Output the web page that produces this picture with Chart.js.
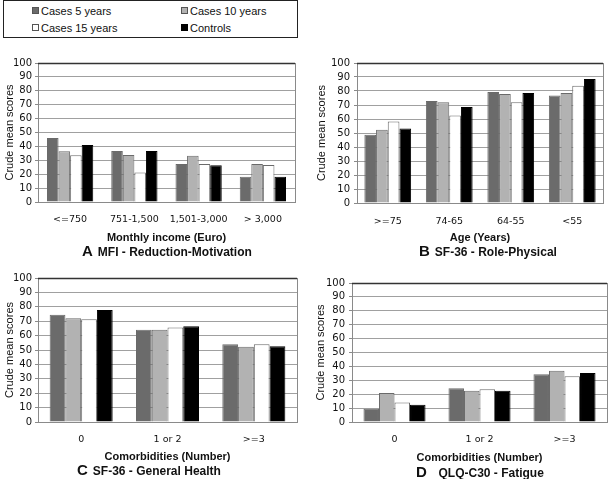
<!DOCTYPE html>
<html>
<head>
<meta charset="utf-8">
<script src="https://cdn.jsdelivr.net/npm/chart.js@4.4.1/dist/chart.umd.min.js"></script>
<style>
  html, body { margin: 0; padding: 0; background: #fff; }
  body { width: 613px; height: 479px; position: relative; overflow: hidden; font-family: "Liberation Sans", Arial, sans-serif; }
  .panel { position: absolute; }
  .legend { position: absolute; left: 3px; top: 0px; width: 293px; height: 36px; border: 1.5px solid #222; }
  .li { position: absolute; font-size: 11px; color: #111; line-height: 13px; white-space: nowrap; }
  .li span.sw { display: inline-block; width: 5px; height: 5px; border: 1px solid #555; margin-right: 2px; vertical-align: 1px; }
  .sub { position: absolute; white-space: nowrap; color: #111; font-weight: bold; font-size: 12px; line-height: 14px; }
  .sub b { font-size: 15px; margin-right: 5px; }
</style>
</head>
<body>
<div class="legend" id="legend"></div>

<div class="panel" style="left:0;top:50px;width:300px;height:195px"><canvas id="cA" width="300" height="195"></canvas></div>
<div class="panel" style="left:300px;top:50px;width:313px;height:195px"><canvas id="cB" width="313" height="195"></canvas></div>
<div class="panel" style="left:0;top:265px;width:300px;height:200px"><canvas id="cC" width="300" height="200"></canvas></div>
<div class="panel" style="left:300px;top:265px;width:313px;height:200px"><canvas id="cD" width="313" height="200"></canvas></div>

<div class="sub" style="left:82px;top:244px"><b>A</b>MFI - Reduction-Motivation</div>
<div class="sub" style="left:419px;top:244px"><b>B</b>SF-36 - Role-Physical</div>
<div class="sub" style="left:77px;top:463px"><b>C</b>SF-36 - General Health</div>
<div class="sub" style="left:416px;top:465px"><b>D</b>&nbsp;&nbsp;QLQ-C30 - Fatigue</div>

<script>
// ---- data ----
const seriesLabels = ['Cases 5 years', 'Cases 10 years', 'Cases 15 years', 'Controls'];
const seriesColors = ['#6b6b6b', '#b2b2b2', '#ffffff', '#000000'];
const yTicks = [0, 10, 20, 30, 40, 50, 60, 70, 80, 90, 100];

const catsA = ['<=750', '751-1,500', '1,501-3,000', '> 3,000'];
const a5  = [46, 36.7, 27.3, 18.2];
const a10 = [36.5, 33.8, 33.3, 27.3];
const a15 = [33.6, 21.3, 27.3, 26.6];
const aCtrl = [41, 36.7, 26.4, 18.2];

const catsB = ['>=75', '74-65', '64-55', '<55'];
const b5  = [48.8, 72.9, 79.2, 76.8];
const b10 = [52.3, 72.0, 77.8, 78.5];
const b15 = [58.2, 62.5, 72.0, 83.8];
const bCtrl = [53.2, 68.5, 78.5, 88.6];

const catsC = ['0', '1 or 2', '>=3'];
const c5  = [74.4, 64, 54];
const c10 = [72.1, 64, 52.3];
const c15 = [71.4, 65.6, 54];
const cCtrl = [77.7, 66.5, 52.6];

const catsD = ['0', '1 or 2', '>=3'];
const d5  = [9.6, 24.2, 34.3];
const d10 = [20.9, 22.5, 36.9];
const d15 = [14.1, 23.5, 32.9];
const dCtrl = [12.5, 22.5, 35.3];

// ---- legend ----
(function () {
  const lg = document.getElementById('legend');
  const pos = [[28, 4], [177, 4], [28, 21], [177, 21]];
  seriesLabels.forEach((s, i) => {
    const d = document.createElement('div');
    d.className = 'li';
    d.style.left = pos[i][0] + 'px';
    d.style.top = pos[i][1] + 'px';
    const sw = document.createElement('span');
    sw.className = 'sw';
    sw.style.background = seriesColors[i];
    if (i === 3) sw.style.borderColor = '#000';
    d.appendChild(sw);
    d.appendChild(document.createTextNode(s));
    lg.appendChild(d);
  });
})();

const framePlugin = {
  id: 'frame',
  beforeDatasetsDraw(chart) {
    const a = chart.chartArea, ctx = chart.ctx;
    ctx.save();
    ctx.strokeStyle = '#8a8a8a';
    ctx.lineWidth = 1;
    ctx.strokeRect(Math.round(a.left) + 0.5, Math.round(a.top) + 0.5, Math.round(a.right - a.left), Math.round(a.bottom - a.top));
    ctx.beginPath();
    ctx.strokeStyle = '#333';
    ctx.lineWidth = 1.5;
    ctx.moveTo(a.left, a.top + 0.5);
    ctx.lineTo(a.right, a.top + 0.5);
    ctx.stroke();
    ctx.restore();
  }
};

function makeChart(id, cats, vals, cfg) {
  const datasets = vals.map((v, i) => ({
    label: seriesLabels[i],
    data: v,
    backgroundColor: seriesColors[i],
    borderColor: i === 3 ? '#000' : '#6a6a6a',
    borderWidth: 1,
    categoryPercentage: cfg.catPct,
    barPercentage: 1.0
  }));
  return new Chart(document.getElementById(id), {
    type: 'bar',
    data: { labels: cats, datasets },
    plugins: [framePlugin],
    options: {
      responsive: false,
      animation: false,
      devicePixelRatio: 1,
      layout: { padding: { top: cfg.padTop, right: cfg.padRight, left: 0, bottom: 0 } },
      plugins: { legend: { display: false }, tooltip: { enabled: false } },
      scales: {
        x: {
          grid: { display: false, drawTicks: false },
          border: { display: true, color: '#777', width: 1 },
          ticks: { color: '#111', padding: cfg.xPad, font: { family: 'DejaVu Sans', size: 9.5 }, maxRotation: 0, autoSkip: false },
          title: { display: true, text: cfg.xTitle, color: '#111', font: { family: 'Liberation Sans', size: 11, weight: 'bold' }, padding: { top: 0, bottom: cfg.xTitlePad } },
          afterFit(s) { s.height = cfg.xHeight; }
        },
        y: {
          min: 0, max: 100,
          afterBuildTicks(s) { s.ticks = yTicks.map(v => ({ value: v })); },
          grid: {
            color: '#a0a0a0',
            drawTicks: true, tickLength: 3, tickColor: '#8a8a8a'
          },
          border: { display: true, color: '#8a8a8a' },
          ticks: { color: '#111', padding: cfg.yPad, autoSkip: false, stepSize: 10, font: { family: 'DejaVu Sans', size: 10 } },
          title: { display: true, text: 'Crude mean scores', color: '#111', font: { family: 'Liberation Sans', size: 11 }, padding: { top: cfg.yTitlePad, bottom: 0 } },
          afterFit(s) { s.width = cfg.yWidth; }
        }
      }
    }
  });
}

makeChart('cA', catsA, [a5, a10, a15, aCtrl], { catPct: 0.72, padTop: 13, padRight: 5, xPad: 12, xHeight: 43, xTitle: 'Monthly income (Euro)', xTitlePad: 0, yWidth: 38, yPad: 3, yTitlePad: 3 });
makeChart('cB', catsB, [b5, b10, b15, bCtrl], { catPct: 0.76, padTop: 13, padRight: 10, xPad: 13, xHeight: 42, xTitle: 'Age (Years)', xTitlePad: 0, yWidth: 57, yPad: 4, yTitlePad: 15 });
makeChart('cC', catsC, [c5, c10, c15, cCtrl], { catPct: 0.73, padTop: 13, padRight: 3, xPad: 12, xHeight: 43, xTitle: 'Comorbidities (Number)', xTitlePad: 1, yWidth: 38, yPad: 3, yTitlePad: 3 });
makeChart('cD', catsD, [d5, d10, d15, dCtrl], { catPct: 0.73, padTop: 18, padRight: 6, xPad: 12, xHeight: 43, xTitle: 'Comorbidities (Number)', xTitlePad: 0, yWidth: 52, yPad: 4, yTitlePad: 14 });
</script>
</body>
</html>
